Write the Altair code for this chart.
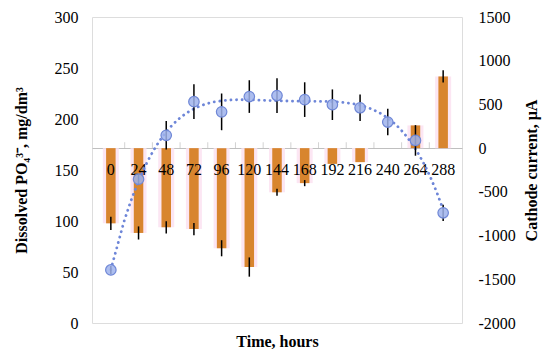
import altair as alt
import pandas as pd

hours = [0, 24, 48, 72, 96, 120, 144, 168, 192, 216, 240, 264, 288]
po4 = [52, 141, 184, 217, 207, 222, 223, 219, 214, 211, 197, 179, 108]
po4_err = [4, 5, 14, 17, 18, 16, 17, 17, 15, 13, 13, 15, 8]
current = [-860, -970, -905, -925, -1145, -1360, -505, -400, -180, -160, 0, 260, 820]
current_err = [75, 75, 70, 70, 92, 110, 40, 35, 0, 0, 0, 0, 70]

left_ticks = [0, 50, 100, 150, 200, 250, 300]
right_ticks = [-2000, -1500, -1000, -500, 0, 500, 1000, 1500]

df = pd.DataFrame({"t": hours, "p": po4, "pe": po4_err, "c": current, "ce": current_err,
                   "lab": [str(h) for h in hours], "zero": [0] * len(hours)})

FONT = "Times New Roman"
xscale = alt.Scale(domain=[-12, 300], nice=False, zero=False)
yleft = alt.Scale(domain=[0, 300], nice=False)
yright = alt.Scale(domain=[-2000, 1500], nice=False)

base = alt.Chart(df)

# bars layer (right axis)
halo = base.mark_bar(size=16, color="#FCE6F3").encode(
    x=alt.X("t:Q", scale=xscale, axis=alt.Axis(
        orient="bottom", offset=-175, labels=False, ticks=False, grid=False,
        domain=True, domainColor="#BFBFBF", domainWidth=1, title=None)),
    y=alt.Y("c:Q", scale=yright, axis=alt.Axis(
        orient="right", values=right_ticks, grid=False, ticks=False, domain=False,
        labelFont=FONT, labelFontSize=16, labelColor="black", labelPadding=16,
        labelExpr="datum.value + ''",
        title="Cathode current, µA", titleFont=FONT, titleFontSize=16,
        titleFontWeight="bold", titleColor="black", titleAngle=270, titlePadding=24)),
)
bars = base.mark_bar(size=9.5, color="#D8852E").encode(
    x=alt.X("t:Q", scale=xscale), y=alt.Y("c:Q", scale=yright))
bar_err = base.transform_calculate(
    lo="datum.c - datum.ce", hi="datum.c + datum.ce"
).transform_filter("datum.ce > 0").mark_rule(color="black", strokeWidth=1.5).encode(
    x=alt.X("t:Q", scale=xscale), y=alt.Y("lo:Q", scale=yright), y2="hi:Q")
cat_ticks = base.transform_filter("datum.t < 288").transform_calculate(
    b="datum.t + 12").mark_tick(orient="vertical", size=6, thickness=1, yOffset=-3,
                                color="#BFBFBF").encode(
    x=alt.X("b:Q", scale=xscale), y=alt.Y("zero:Q", scale=yright))
cat_labels = base.mark_text(font=FONT, fontSize=16, color="black", baseline="middle",
                            dy=22).encode(
    x=alt.X("t:Q", scale=xscale), y=alt.Y("zero:Q", scale=yright), text="lab:N")

bar_layer = alt.layer(halo, bars, bar_err, cat_ticks, cat_labels)

# points layer (left axis)
trend = base.transform_regression("t", "p", method="poly", order=4, extent=[0, 288]).mark_line(
    color="#6E86D8", strokeWidth=2.8, strokeDash=[0.1, 5.5], strokeCap="round").encode(
    x=alt.X("t:Q", scale=xscale, axis=alt.Axis(
        orient="bottom", labels=False, ticks=False, domain=False, grid=False,
        title="Time, hours", titleFont=FONT, titleFontSize=16, titleFontWeight="bold",
        titleColor="black", titlePadding=10)),
    y=alt.Y("p:Q", scale=yleft, axis=alt.Axis(
        orient="left", values=left_ticks, grid=False, ticks=False, domain=False,
        labelFont=FONT, labelFontSize=16, labelColor="black", labelPadding=14,
        title="Dissolved PO₄³⁻, mg/dm³", titleFont=FONT, titleFontSize=16,
        titleFontWeight="bold", titleColor="black", titlePadding=25)),
)
pt_err = base.transform_calculate(
    lo="datum.p - datum.pe", hi="datum.p + datum.pe"
).mark_rule(color="black", strokeWidth=1.5).encode(
    x=alt.X("t:Q", scale=xscale), y=alt.Y("lo:Q", scale=yleft), y2="hi:Q")
points = base.mark_point(filled=True, size=110, fill="#9FB3EC", fillOpacity=0.85,
                         stroke="#6F87D6", strokeWidth=1.2).encode(
    x=alt.X("t:Q", scale=xscale), y=alt.Y("p:Q", scale=yleft))

pt_layer = alt.layer(trend, pt_err, points)

chart = alt.layer(bar_layer, pt_layer).resolve_scale(y="independent").resolve_axis(
    x="independent").properties(
    width=370, height=306, autosize="none",
    padding={"left": 84, "top": 9, "right": 80, "bottom": 26},
).configure_view(stroke="#BFBFBF", strokeWidth=1).configure(font=FONT)

chart.save("out.html", embed_options={"renderer": "svg", "actions": False})
